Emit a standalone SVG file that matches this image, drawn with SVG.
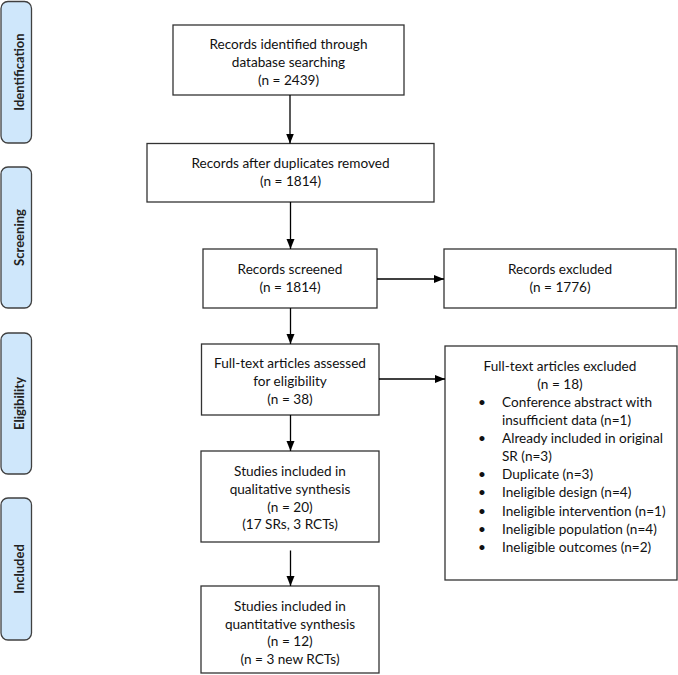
<svg xmlns="http://www.w3.org/2000/svg" width="678" height="675" viewBox="0 0 678 675">
<defs>
<marker id="ah" markerUnits="userSpaceOnUse" markerWidth="10" markerHeight="10" viewBox="0 0 10 10" refX="10" refY="5" orient="auto">
<path d="M0,1 L10,5 L0,9 Z" fill="#000"/>
</marker>
<style>
.box{fill:#fff;stroke:#333;stroke-width:1.3}
.phase{fill:#cfe7fb;stroke:#404040;stroke-width:1.3}
.t{font-family:Lato,"Liberation Sans",sans-serif;font-size:13.6px;fill:#111;text-anchor:middle}
.l{text-anchor:start}
.p{font-family:Lato,"Liberation Sans",sans-serif;font-size:13px;font-weight:bold;fill:#222;text-anchor:middle}
.c{stroke:#000;stroke-width:1.3;fill:none;marker-end:url(#ah)}
</style>
</defs>
<g id="phase-identification"><rect class="phase" x="1" y="1.5" width="30.5" height="141.5" rx="7"/><text class="p" transform="translate(24,72) rotate(-90)">Identification</text></g>
<g id="phase-screening"><rect class="phase" x="1" y="167" width="30.5" height="141" rx="7"/><text class="p" transform="translate(24,237.5) rotate(-90)">Screening</text></g>
<g id="phase-eligibility"><rect class="phase" x="1" y="333" width="30.5" height="141" rx="7"/><text class="p" transform="translate(24,403.5) rotate(-90)">Eligibility</text></g>
<g id="phase-included"><rect class="phase" x="1" y="498" width="30.5" height="142" rx="7"/><text class="p" transform="translate(24,569) rotate(-90)">Included</text></g>

<g id="n-identified"><rect class="box" x="173" y="25" width="231" height="70"/>
<text class="t" x="288.5" y="49">Records identified through</text>
<text class="t" x="288.5" y="67">database searching</text>
<text class="t" x="288.5" y="85">(n = 2439)</text></g>

<g id="n-dedup"><rect class="box" x="147" y="143.5" width="287" height="58.5"/>
<text class="t" x="290.5" y="168">Records after duplicates removed</text>
<text class="t" x="290.5" y="185.5">(n = 1814)</text></g>

<g id="n-screened"><rect class="box" x="203" y="249" width="174" height="59"/>
<text class="t" x="290" y="274">Records screened</text>
<text class="t" x="290" y="292">(n = 1814)</text></g>

<g id="n-excluded"><rect class="box" x="444" y="249" width="232" height="59"/>
<text class="t" x="560" y="274">Records excluded</text>
<text class="t" x="560" y="292">(n = 1776)</text></g>

<g id="n-fulltext"><rect class="box" x="201.5" y="344" width="177.5" height="71"/>
<text class="t" x="290" y="368">Full-text articles assessed</text>
<text class="t" x="290" y="386">for eligibility</text>
<text class="t" x="290" y="404">(n = 38)</text></g>

<g id="n-ft-excluded"><rect class="box" x="445" y="346" width="232" height="234"/>
<text class="t" x="560" y="371">Full-text articles excluded</text>
<text class="t" x="560" y="388.5">(n = 18)</text>
<text class="t l" x="478" y="407">•</text><text class="t l" x="502" y="407">Conference abstract with</text>
<text class="t l" x="502" y="424.5">insufficient data (n=1)</text>
<text class="t l" x="478" y="443">•</text><text class="t l" x="502" y="443">Already included in original</text>
<text class="t l" x="502" y="460.5">SR (n=3)</text>
<text class="t l" x="478" y="478.5">•</text><text class="t l" x="502" y="478.5">Duplicate (n=3)</text>
<text class="t l" x="478" y="497">•</text><text class="t l" x="502" y="497">Ineligible design (n=4)</text>
<text class="t l" x="478" y="515.5">•</text><text class="t l" x="502" y="515.5">Ineligible intervention (n=1)</text>
<text class="t l" x="478" y="534">•</text><text class="t l" x="502" y="534">Ineligible population (n=4)</text>
<text class="t l" x="478" y="552">•</text><text class="t l" x="502" y="552">Ineligible outcomes (n=2)</text>
</g>

<g id="n-qualitative"><rect class="box" x="201" y="451" width="178" height="91"/>
<text class="t" x="290" y="476">Studies included in</text>
<text class="t" x="290" y="494">qualitative synthesis</text>
<text class="t" x="290" y="511.5">(n = 20)</text>
<text class="t" x="290" y="529">(17 SRs, 3 RCTs)</text></g>

<g id="n-quantitative"><rect class="box" x="201" y="586" width="178" height="87"/>
<text class="t" x="290" y="611">Studies included in</text>
<text class="t" x="290" y="628.5">quantitative synthesis</text>
<text class="t" x="290" y="646">(n = 12)</text>
<text class="t" x="290" y="663.5">(n = 3 new RCTs)</text></g>

<g id="connectors">
<line class="c" x1="290" y1="95" x2="290" y2="143.5"/>
<line class="c" x1="290.5" y1="202" x2="290.5" y2="249"/>
<line class="c" x1="377" y1="279" x2="444" y2="279"/>
<line class="c" x1="290.5" y1="308" x2="290.5" y2="344"/>
<line class="c" x1="379" y1="379" x2="445" y2="379"/>
<line class="c" x1="290.5" y1="415" x2="290.5" y2="451"/>
<line class="c" x1="290.5" y1="550.5" x2="290.5" y2="586"/>
</g>
</svg>
